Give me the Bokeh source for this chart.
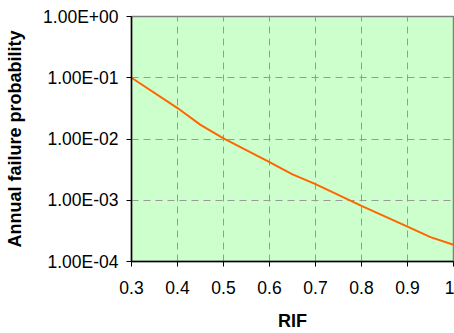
from bokeh.plotting import figure
from bokeh.models import FixedTicker, CustomJSTickFormatter, Range1d
from bokeh.embed import file_html
from bokeh.resources import INLINE

rif = [0.3, 0.4, 0.45, 0.5, 0.6, 0.65, 0.7, 0.8, 0.9, 0.95, 1.0]
prob = [0.1, 0.032, 0.017, 0.0102, 0.0042, 0.00265, 0.00183, 0.00081, 0.00037, 0.00025, 0.000188]

x_ticks = [0.3, 0.4, 0.5, 0.6, 0.7, 0.8, 0.9, 1.0]
y_ticks = [1e-4, 1e-3, 1e-2, 1e-1, 1.0]

p = figure(width=454, height=333, output_backend="svg", toolbar_location=None,
           y_axis_type="log", x_range=Range1d(0.3, 1.0), y_range=Range1d(1e-4, 1.0),
           min_border_left=131, min_border_right=1, min_border_top=16, min_border_bottom=69)

p.background_fill_color = "#ccffcc"
p.border_fill_color = "white"
p.outline_line_color = "#808080"
p.outline_line_width = 1.5

p.line(rif, prob, line_color="#ff6600", line_width=2)

for ax in (p.xaxis[0], p.yaxis[0]):
    ax.axis_line_color = "black"
    ax.axis_line_width = 1.5
    ax.major_tick_line_color = "black"
    ax.major_tick_out = 5
    ax.major_tick_in = 0
    ax.minor_tick_line_color = None
    ax.major_label_text_font = "Liberation Sans"
    ax.major_label_text_font_size = "17.5px"
    ax.major_label_text_color = "black"
    ax.axis_label_text_font = "Liberation Sans"
    ax.axis_label_text_font_size = "18px"
    ax.axis_label_text_font_style = "bold"
    ax.axis_label_text_color = "black"

p.xaxis.ticker = FixedTicker(ticks=x_ticks)
p.xaxis.formatter = CustomJSTickFormatter(code="return String(parseFloat(tick.toFixed(1)));")
p.xaxis.axis_label = "RIF"
p.xaxis.major_label_standoff = 14
p.xaxis.axis_label_standoff = 14

p.yaxis.ticker = FixedTicker(ticks=y_ticks)
p.yaxis.formatter = CustomJSTickFormatter(code="""
var s = tick.toExponential(2); var parts = s.split('e');
var e = parseInt(parts[1]); var sign = e < 0 ? '-' : '+'; var a = Math.abs(e);
return parts[0] + 'E' + sign + (a < 10 ? '0' : '') + a;
""")
p.yaxis.axis_label = "Annual failure probability"
p.yaxis.major_label_standoff = 8
p.yaxis.axis_label_standoff = 15

for g in (p.xgrid[0], p.ygrid[0]):
    g.grid_line_color = "#999999"
    g.grid_line_dash = "7 5"
    g.grid_line_width = 1

open("out.html", "w").write(file_html(p, INLINE))
